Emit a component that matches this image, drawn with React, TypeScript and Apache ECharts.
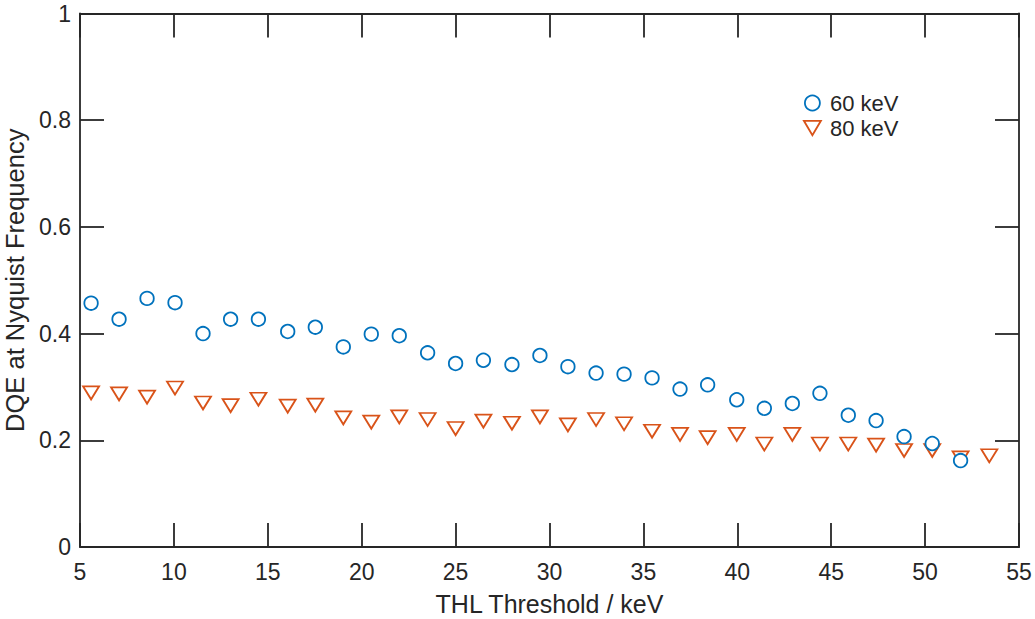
import React, { useEffect, useRef } from "react";
import * as echarts from "echarts";

const thresholds = [
  5.59, 7.08, 8.57, 10.06, 11.55, 13.02, 14.5, 16.06, 17.53, 19.02, 20.51,
  22.0, 23.51, 25.0, 26.48, 28.0, 29.49, 30.98, 32.48, 33.97, 35.46, 36.95,
  38.42, 39.97, 41.44, 42.93, 44.4, 45.91, 47.39, 48.88, 50.38, 51.89, 53.42,
];
const dqe60 = [
  0.457, 0.427, 0.466, 0.458, 0.4, 0.427, 0.427, 0.404, 0.412, 0.375, 0.399,
  0.396, 0.364, 0.344, 0.35, 0.342, 0.359, 0.338, 0.326, 0.324, 0.317, 0.296,
  0.304, 0.276, 0.26, 0.269, 0.288, 0.247, 0.237, 0.207, 0.194, 0.162,
];
const dqe80 = [
  0.289, 0.287, 0.281, 0.298, 0.27, 0.265, 0.277, 0.264, 0.266, 0.242, 0.234,
  0.244, 0.239, 0.222, 0.236, 0.232, 0.244, 0.229, 0.239, 0.231, 0.217, 0.211,
  0.205, 0.211, 0.193, 0.211, 0.193, 0.193, 0.191, 0.181, 0.181, 0.167, 0.171,
];
const seriesNames = ["60 keV", "80 keV"];
const xTitle = "THL Threshold / keV";
const yTitle = "DQE at Nyquist Frequency";

const FONT = "'Liberation Sans', Arial, sans-serif";
const AX = "#262626";
const BLUE = "#0072BD";
const ORANGE = "#D95319";

export default function App() {
  const ref = useRef<HTMLDivElement>(null);
  useEffect(() => {
    if (!ref.current) return;
    const chart = echarts.init(ref.current, null, { renderer: "svg" });
    const axisLine = { show: true, onZero: false, lineStyle: { color: AX, width: 1.8 } };
    const tick = { show: true, inside: true, length: 24, lineStyle: { color: AX, width: 1.8 } };
    const fmt = (v: number) => String(+v.toFixed(2));
    chart.setOption({
      animation: false,
      backgroundColor: "#ffffff",
      textStyle: { fontFamily: FONT },
      grid: { left: 80, right: 16, top: 13.5, bottom: 72, containLabel: false, outerBoundsMode: "none" },
      legend: {
        orient: "vertical",
        left: 798,
        top: 87,
        itemWidth: 17,
        itemHeight: 15,
        itemGap: 3,
        symbolRotate: 0,
        textStyle: { fontFamily: FONT, fontSize: 22, color: AX, padding: [0, 0, 0, 4], lineHeight: 22 },
        data: [
          { name: seriesNames[0], icon: "circle", itemStyle: { color: "#fff", borderColor: BLUE, borderWidth: 1.8 } },
          { name: seriesNames[1], icon: "path://M0,0L20,0L10,17Z", itemStyle: { color: "#fff", borderColor: ORANGE, borderWidth: 1.8 } },
        ],
      },
      xAxis: [
        {
          type: "value",
          position: "bottom",
          min: 5,
          max: 55,
          interval: 5,
          axisLine,
          axisTick: tick,
          splitLine: { show: false },
          axisLabel: { fontFamily: FONT, fontSize: 23, color: AX, margin: 13, formatter: fmt },
          name: xTitle,
          nameLocation: "middle",
          nameGap: 44,
          nameTextStyle: { fontFamily: FONT, fontSize: 25, color: AX },
        },
        {
          type: "value",
          position: "top",
          min: 5,
          max: 55,
          interval: 5,
          axisLine,
          axisTick: tick,
          splitLine: { show: false },
          axisLabel: { show: false },
        },
      ],
      yAxis: [
        {
          type: "value",
          position: "left",
          min: 0,
          max: 1,
          interval: 0.2,
          axisLine,
          axisTick: tick,
          splitLine: { show: false },
          axisLabel: { fontFamily: FONT, fontSize: 23, color: AX, margin: 9, formatter: fmt },
          name: yTitle,
          nameLocation: "middle",
          nameGap: 37,
          nameTextStyle: { fontFamily: FONT, fontSize: 25.5, color: AX },
        },
        {
          type: "value",
          position: "right",
          min: 0,
          max: 1,
          interval: 0.2,
          axisLine,
          axisTick: tick,
          splitLine: { show: false },
          axisLabel: { show: false },
        },
      ],
      series: [
        {
          name: seriesNames[0],
          type: "scatter",
          symbol: "circle",
          symbolSize: 13.5,
          itemStyle: { color: "#fff", borderColor: BLUE, borderWidth: 1.8, opacity: 1 },
          data: dqe60.map((v, i) => [thresholds[i], v]),
          z: 3,
        },
        {
          name: seriesNames[1],
          type: "scatter",
          symbol: "triangle",
          symbolRotate: 180,
          symbolSize: [16, 13],
          itemStyle: { color: "#fff", borderColor: ORANGE, borderWidth: 1.8, opacity: 1 },
          data: dqe80.map((v, i) => [thresholds[i], v]),
          z: 2,
        },
      ],
    });
    return () => chart.dispose();
  }, []);
  return (
    <div
      ref={ref}
      style={{ position: "absolute", left: 0, top: 0, width: 1035, height: 619, background: "#fff" }}
    />
  );
}
